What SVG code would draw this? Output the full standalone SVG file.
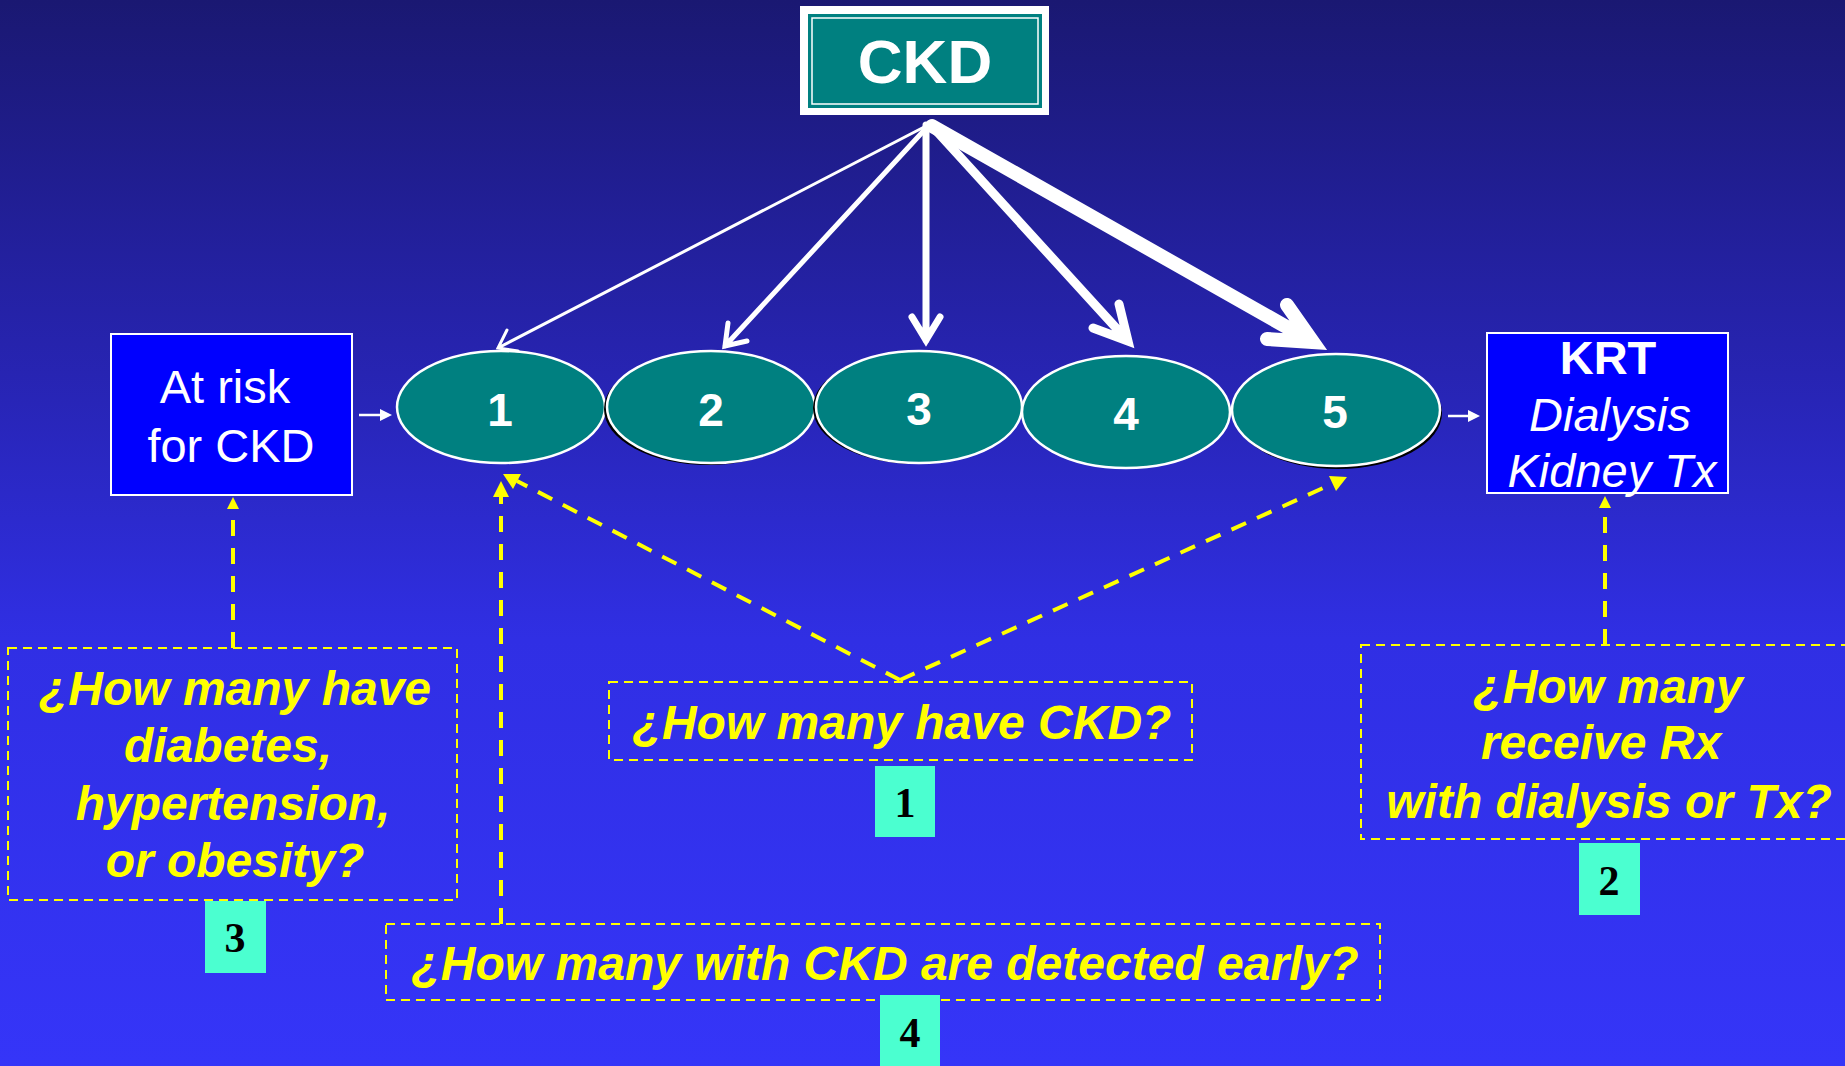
<svg xmlns="http://www.w3.org/2000/svg" width="1845" height="1066" viewBox="0 0 1845 1066">
<defs>
<linearGradient id="bg" x1="0" y1="0" x2="0" y2="1">
<stop offset="0" stop-color="#1a1872"/>
<stop offset="0.35" stop-color="#2724b2"/>
<stop offset="0.6" stop-color="#302fe4"/>
<stop offset="1" stop-color="#3535f8"/>
</linearGradient>
<style>
.ell{fill:#008080;stroke:#ffffff;stroke-width:2.5}
.shadow{fill:#000000}
.num{font-family:"Liberation Sans",Arial,sans-serif;font-weight:bold;font-size:46px;fill:#ffffff;text-anchor:middle}
.box{fill:#0000ff;stroke:#ffffff;stroke-width:2}
.wt{font-family:"Liberation Sans",Arial,sans-serif;font-size:47px;fill:#ffffff;text-anchor:middle}
.q{fill:none;stroke:#ffff00;stroke-width:2;stroke-dasharray:9 6}
.qt{font-family:"Liberation Sans",Arial,sans-serif;font-weight:bold;font-style:italic;font-size:48px;fill:#ffff00;text-anchor:middle}
.sq{fill:#4bffd0}
.sqt{font-family:"Liberation Serif","Times New Roman",serif;font-weight:bold;font-size:42px;fill:#000000;text-anchor:middle}
.arr{fill:none;stroke:#ffffff;stroke-linecap:round;stroke-linejoin:miter}
.dash{fill:none;stroke:#ffff00;stroke-width:4;stroke-dasharray:16 12}
.yh{fill:#ffff00}
</style>
</defs>
<rect x="0" y="0" width="1845" height="1066" fill="url(#bg)"/>

<g id="ckd">
<rect x="800" y="6" width="249" height="109" fill="#ffffff"/>
<rect x="808" y="14" width="234" height="94" fill="#008080"/>
<rect x="812" y="18" width="226" height="86" fill="none" stroke="#ffffff" stroke-width="1.5"/>
<text x="925" y="83" font-family="Liberation Sans,Arial,sans-serif" font-weight="bold" font-size="62" fill="#ffffff" text-anchor="middle">CKD</text>
</g>

<g id="atrisk">
<rect class="box" x="111" y="334" width="241" height="161"/>
<text class="wt" x="225" y="403">At risk</text>
<text class="wt" x="231" y="462">for CKD</text>
</g>

<g id="krt">
<rect class="box" x="1487" y="333" width="241" height="160"/>
<text class="wt" x="1608" y="374" font-weight="bold">KRT</text>
<text class="wt" x="1610" y="431" font-style="italic">Dialysis</text>
<text class="wt" x="1612" y="487" font-style="italic">Kidney Tx</text>
</g>

<g id="stage1">
<ellipse class="ell" cx="501" cy="407" rx="104" ry="56"/>
<text class="num" x="500" y="426">1</text>
</g>
<g id="stage2">
<ellipse class="shadow" cx="708" cy="409" rx="104" ry="56"/>
<ellipse class="ell" cx="711" cy="407" rx="104" ry="56"/>
<text class="num" x="711" y="426">2</text>
</g>
<g id="stage3">
<ellipse class="shadow" cx="916" cy="408" rx="103" ry="56"/>
<ellipse class="ell" cx="919" cy="407" rx="103" ry="56"/>
<text class="num" x="919" y="425">3</text>
</g>
<g id="stage4">
<ellipse class="ell" cx="1126" cy="412" rx="104" ry="56"/>
<text class="num" x="1126" y="430">4</text>
</g>
<g id="stage5">
<ellipse class="shadow" cx="1338" cy="413" rx="104" ry="56"/>
<ellipse class="ell" cx="1336" cy="410" rx="104" ry="56"/>
<text class="num" x="1335" y="428">5</text>
</g>

<g id="q1">
<rect class="q" x="609" y="682" width="583" height="78"/>
<text class="qt" x="902" y="739">¿How many have CKD?</text>
<rect class="sq" x="875" y="766" width="60" height="71"/>
<text class="sqt" x="905" y="817">1</text>
</g>

<g id="q2">
<rect class="q" x="1361" y="645" width="490" height="194"/>
<text class="qt" x="1608" y="703">¿How many</text>
<text class="qt" x="1601" y="759">receive Rx</text>
<text class="qt" x="1609" y="818">with dialysis or Tx?</text>
<rect class="sq" x="1579" y="843" width="61" height="72"/>
<text class="sqt" x="1609" y="895">2</text>
</g>

<g id="q3">
<rect class="q" x="8" y="648" width="449" height="252"/>
<text class="qt" x="235" y="705">¿How many have</text>
<text class="qt" x="228" y="762">diabetes,</text>
<text class="qt" x="233" y="820">hypertension,</text>
<text class="qt" x="235" y="877">or obesity?</text>
<rect class="sq" x="205" y="901" width="61" height="72"/>
<text class="sqt" x="235" y="952">3</text>
</g>

<g id="q4">
<rect class="q" x="386" y="924" width="994" height="76"/>
<text class="qt" x="885" y="980">¿How many with CKD are detected early?</text>
<rect class="sq" x="880" y="995" width="60" height="71"/>
<text class="sqt" x="910" y="1047">4</text>
</g>

<g id="connectors">
<path class="arr" stroke-width="3" d="M928 125 L498 348 M518 351 L498 348 L507 330"/>
<path class="arr" stroke-width="5" d="M929 125 L725 346 M747 341 L725 346 L728 323"/>
<path class="arr" stroke-width="7" d="M926 125 L926 340 M912 317 L926 340 L940 317"/>
<path class="arr" stroke-width="9" d="M931 125 L1128 341 M1119 304 L1128 341 L1093 328"/>
<path class="arr" stroke-width="14" d="M932 126 L1313 342 M1287 305 L1313 342 L1267 339"/>

<line x1="359" y1="415" x2="381" y2="415" stroke="#ffffff" stroke-width="2.5"/>
<polygon points="392,415 380,409 380,421" fill="#ffffff"/>
<line x1="1448" y1="416" x2="1469" y2="416" stroke="#ffffff" stroke-width="2.5"/>
<polygon points="1480,416 1468,410 1468,422" fill="#ffffff"/>

<path class="dash" d="M900 680 L517 481"/>
<polygon class="yh" points="503,474 521,474 513,489"/>
<path class="dash" d="M900 680 L1332 484"/>
<polygon class="yh" points="1347,477 1336,491 1329,476"/>
<path class="dash" d="M501 924 L501 497"/>
<polygon class="yh" points="501,481 493,497 509,497"/>
<path class="dash" stroke-width="3.5" d="M233 648 L233 508"/>
<polygon class="yh" points="233,497 227,509 239,509"/>
<path class="dash" stroke-width="3.5" d="M1605 645 L1605 508"/>
<polygon class="yh" points="1605,496 1599,508 1611,508"/>
</g>
</svg>
